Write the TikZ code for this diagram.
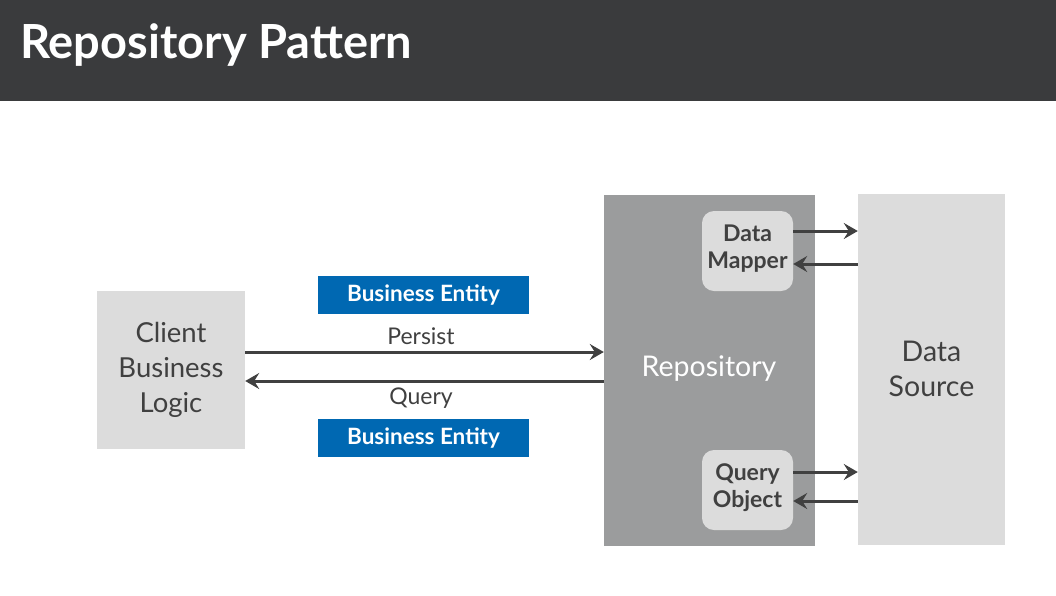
\documentclass[tikz,border=0pt]{standalone}
\usepackage{fontspec}
\setmainfont{Lato}
\usetikzlibrary{arrows.meta}
\definecolor{titlebg}{HTML}{3A3B3D}
\definecolor{boxgray}{HTML}{DCDCDC}
\definecolor{repogray}{HTML}{9B9C9D}
\definecolor{entityblue}{HTML}{0068B2}
\definecolor{ink}{HTML}{404040}

\begin{document}
\begin{tikzpicture}[x=1pt,y=-1pt,
	box/.style={fill=boxgray,inner sep=0,text=ink,align=center,font=\fontsize{27.5}{35}\selectfont},
	entity/.style={fill=entityblue,inner sep=0,minimum width=211pt,minimum height=38pt,text=white,font=\bfseries\fontsize{22.5}{24}\selectfont},
	inner/.style={fill=boxgray,rounded corners=12pt,inner sep=0,minimum width=91pt,minimum height=80pt,align=center,text=ink,font=\bfseries\fontsize{23}{27}\selectfont},
	lbl/.style={text=ink,font=\fontsize{23}{25}\selectfont},
	link/.style={draw=ink,line width=3pt,-{Stealth[length=14pt,width=16pt,inset=5pt]}}]
	\useasboundingbox (0,0) rectangle (1056,595);
	\fill[titlebg] (0,0) rectangle (1056,101);
	\node[anchor=base west,inner sep=0,text=white,font=\bfseries\fontsize{47}{54}\selectfont] (title) at (20,58) {Repository Pattern};
	\node[box,minimum width=148pt,minimum height=158pt] (client) at (171,370) {Client\\Business\\Logic};
	\node[box,fill=repogray,text=white,minimum width=211pt,minimum height=351pt] (repo) at (709.5,370.5) {};
	\node[text=white,font=\fontsize{28.5}{35}\selectfont] (repolbl) at (709,369) {Repository};
	\node[box,font=\fontsize{28.5}{35}\selectfont,minimum width=147pt,minimum height=351pt] (source) at (931.5,369) {Data\\Source};
	\node[inner] (mapper) at (747.5,251) {Data\\Mapper\\[-19pt]};
	\node[inner] (query) at (747.5,490) {Query\\Object\\[-19pt]};
	\node[entity] (entityin) at (423.5,295) {Business Entity};
	\node[entity] (entityout) at (423.5,438) {Business Entity};
	\node[lbl] (persistlbl) at (421,336) {Persist};
	\node[lbl] (querylbl) at (421,398) {Query};
	\coordinate (persist) at (0,352);
	\coordinate (fetch) at (0,381);
	\coordinate (mapout) at (0,231);
	\coordinate (mapin) at (0,264);
	\coordinate (queryout) at (0,472);
	\coordinate (queryin) at (0,501);
	\draw[link] (persist -| client.east) -- (persist -| repo.west);
	\draw[link] (fetch -| repo.west) -- (fetch -| client.east);
	\draw[link] (mapout -| mapper.east) -- (mapout -| source.west);
	\draw[link] (mapin -| source.west) -- (mapin -| mapper.east);
	\draw[link] (queryout -| query.east) -- (queryout -| source.west);
	\draw[link] (queryin -| source.west) -- (queryin -| query.east);
\end{tikzpicture}
\end{document}
